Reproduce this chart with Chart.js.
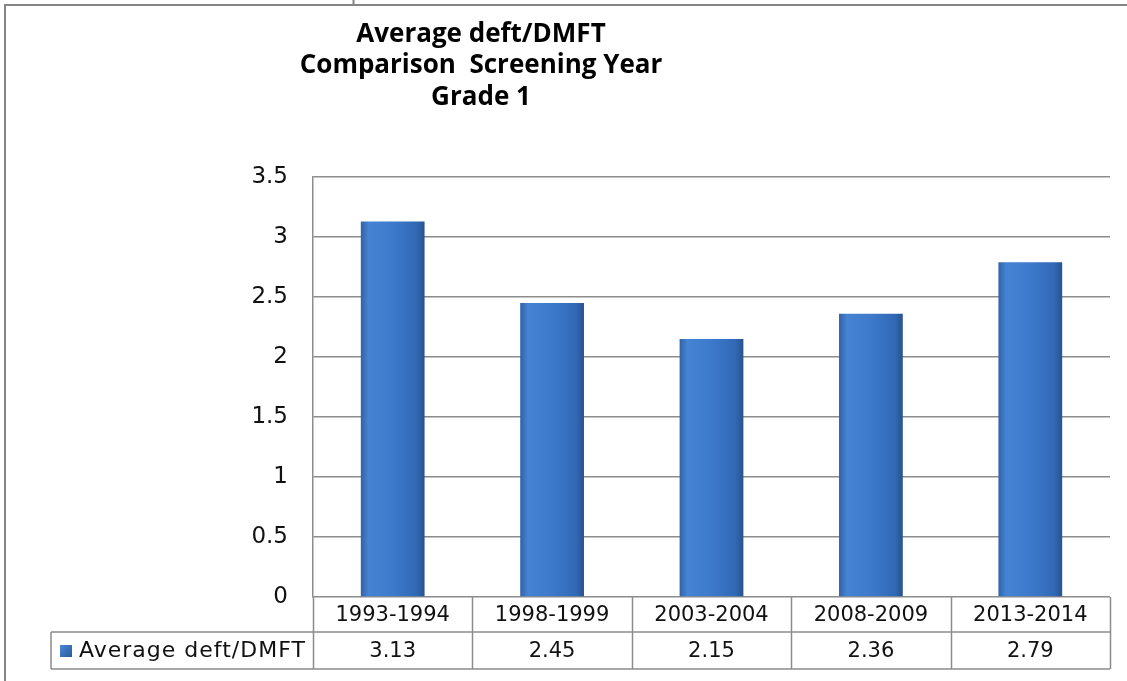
<!DOCTYPE html>
<html>
<head>
<meta charset="utf-8">
<title>Average deft/DMFT</title>
<script src="https://cdn.jsdelivr.net/npm/chart.js@4"></script>
<style>
  html, body { margin: 0; padding: 0; background: #fff; }
  #chart { display: block; }
</style>
</head>
<body>
<canvas id="chart" width="1127" height="681"></canvas>
<script>
// Average deft/DMFT - grade 1, by screening year

const titleLines = ['Average deft/DMFT', 'Comparison  Screening Year', 'Grade 1'];
const seriesName = 'Average deft/DMFT';
const categories = ['1993-1994', '1998-1999', '2003-2004', '2008-2009', '2013-2014'];
const values = [3.13, 2.45, 2.15, 2.36, 2.79];
const yMax = 3.5;
const yStep = 0.5;

const lineColor = '#8c8c8c';
const textFont = '"DejaVu Sans", sans-serif';

function barGradient(context) {
  const chart = context.chart;
  const x = chart.scales.x;
  if (!chart.chartArea || !x) return '#3f7bcb';
  const colW = chart.chartArea.width / categories.length;
  const w = colW * 0.4;
  const cx = x.getPixelForValue(context.dataIndex);
  const g = chart.ctx.createLinearGradient(cx - w / 2, 0, cx + w / 2, 0);
  g.addColorStop(0, '#3262a6');
  g.addColorStop(0.12, '#4583d3');
  g.addColorStop(0.5, '#3d7acb');
  g.addColorStop(0.88, '#3168b5');
  g.addColorStop(1, '#28538c');
  return g;
}

// title, outer frame and data table under the plot
const decorPlugin = {
  id: 'decor',
  afterDraw(chart) {
    const ctx = chart.ctx;
    const area = chart.chartArea;
    const colW = area.width / categories.length;
    const row1 = area.bottom, row2 = 632, row3 = 669;
    const legendLeft = 51;

    ctx.save();
    // outer frame (cropped at right and bottom)
    ctx.strokeStyle = '#858585';
    ctx.lineWidth = 2;
    ctx.beginPath();
    ctx.moveTo(5, 681);
    ctx.lineTo(5, 5);
    ctx.lineTo(1127, 5);
    ctx.moveTo(353.5, 0);
    ctx.lineTo(353.5, 5);
    ctx.stroke();

    // title
    ctx.fillStyle = '#000';
    ctx.font = 'bold 26px "Open Sans", sans-serif';
    ctx.textAlign = 'center';
    ctx.textBaseline = 'alphabetic';
    const baselines = [42, 73, 105];
    titleLines.forEach((t, i) => ctx.fillText(t, 481, baselines[i]));

    // table grid
    ctx.strokeStyle = lineColor;
    ctx.lineWidth = 1.5;
    ctx.beginPath();
    ctx.moveTo(legendLeft, row2); ctx.lineTo(area.right, row2);
    ctx.moveTo(legendLeft, row3); ctx.lineTo(area.right, row3);
    ctx.moveTo(legendLeft, row2); ctx.lineTo(legendLeft, row3);
    for (let i = 0; i <= categories.length; i++) {
      const x = Math.round(area.left + i * colW) + 0.5;
      ctx.moveTo(x, row1); ctx.lineTo(x, row3);
    }
    ctx.stroke();

    // category and value text
    ctx.fillStyle = '#111';
    ctx.font = '21px ' + textFont;
    ctx.textBaseline = 'middle';
    categories.forEach((c, i) => {
      const cx = area.left + (i + 0.5) * colW;
      ctx.fillText(c, cx, (row1 + row2) / 2 + 1);
      ctx.fillText(values[i].toFixed(2), cx, (row2 + row3) / 2 + 1);
    });

    // legend cell
    const sw = ctx.createLinearGradient(60, 645, 72, 657);
    sw.addColorStop(0, '#4a88d8');
    sw.addColorStop(1, '#2b5a98');
    ctx.fillStyle = sw;
    ctx.fillRect(60, 645, 12, 12);
    ctx.fillStyle = '#111';
    ctx.textAlign = 'left';
    ctx.font = '22px ' + textFont;
    ctx.letterSpacing = '1px';
    ctx.fillText(seriesName, 79, (row2 + row3) / 2 + 1);
    ctx.letterSpacing = '0px';
    ctx.restore();
  }
};

new Chart(document.getElementById('chart'), {
  type: 'bar',
  data: {
    labels: categories,
    datasets: [{
      label: seriesName,
      data: values,
      backgroundColor: barGradient,
      borderWidth: 0,
      barPercentage: 0.4,
      categoryPercentage: 1
    }]
  },
  options: {
    responsive: false,
    animation: false,
    layout: { padding: { top: 177, bottom: 84, left: 0, right: 17 } },
    plugins: {
      legend: { display: false },
      title: { display: false },
      tooltip: { enabled: false }
    },
    scales: {
      x: { display: false },
      y: {
        min: 0,
        max: yMax,
        afterFit(scale) { scale.width = 313; },
        ticks: {
          stepSize: yStep,
          padding: 25,
          color: '#111',
          font: { family: 'DejaVu Sans', size: 23 },
          callback: (v) => String(v)
        },
        grid: { color: lineColor, lineWidth: 1.5, drawTicks: false },
        border: { display: true, color: lineColor, width: 1.5 }
      }
    }
  },
  plugins: [decorPlugin]
});
</script>
</body>
</html>
